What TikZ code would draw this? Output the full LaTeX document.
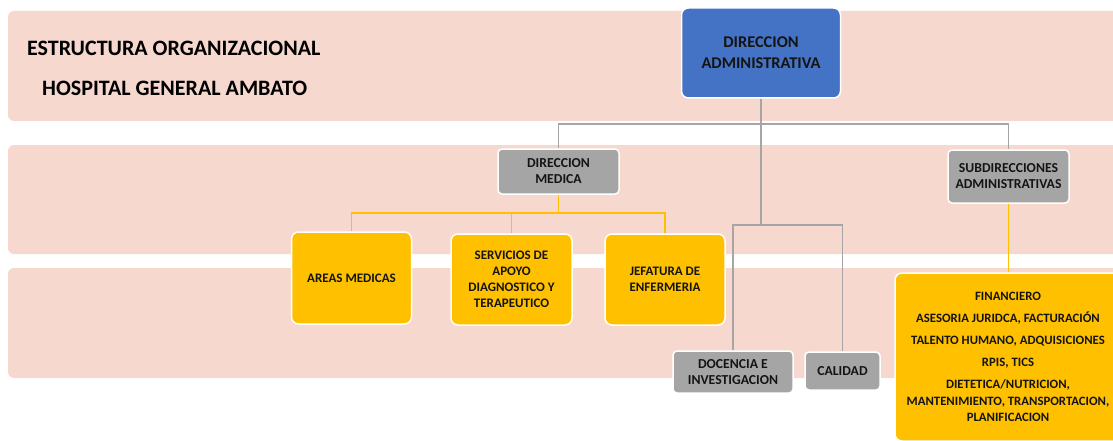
\documentclass[tikz,border=0pt]{standalone}
\usepackage{fontspec}
\setmainfont{Carlito}
\definecolor{bandpink}{RGB}{246,216,206}
\definecolor{dirblue}{RGB}{68,114,196}
\definecolor{boxgray}{RGB}{165,165,165}
\definecolor{boxgold}{RGB}{255,192,0}
\definecolor{textdark}{RGB}{20,20,20}

\tikzset{
  unitbox/.style={draw=white, line width=1.5pt, rounded corners=7pt, inner sep=0pt,
    align=center, text=textdark, font=\bfseries\fontsize{13}{16}\selectfont},
  graybox/.style={unitbox, fill=boxgray, rounded corners=4pt, font=\bfseries\fontsize{13.7}{16}\selectfont},
  goldbox/.style={unitbox, fill=boxgold},
  grayline/.style={draw=boxgray, line width=1.4pt},
  goldline/.style={draw=boxgold, line width=1.4pt}
}

\begin{document}
\begin{tikzpicture}[x=1pt, y=-1pt]
  \useasboundingbox (0,0) rectangle (1113,441);
  \clip (0,0) rectangle (1113,441);

  % background bands
  \fill[bandpink, rounded corners=6pt] (8,11) rectangle (1130,121);
  \fill[bandpink, rounded corners=6pt] (8,145) rectangle (1130,254);
  \fill[bandpink, rounded corners=6pt] (8,268) rectangle (1130,378);

  % title
  \node[anchor=west, font=\bfseries\fontsize{22}{26}\selectfont, inner sep=0pt] (title1) at (27,48) {ESTRUCTURA ORGANIZACIONAL};
  \node[anchor=west, font=\bfseries\fontsize{22}{26}\selectfont, inner sep=0pt] (title2) at (42,88) {HOSPITAL GENERAL AMBATO};

  % top level
  \node[unitbox, fill=dirblue, minimum width=159pt, minimum height=90pt,
        font=\bfseries\fontsize{16.4}{21}\selectfont] (diradm) at (761,53) {DIRECCION\\ADMINISTRATIVA};

  % second level
  \node[graybox, minimum width=121pt, minimum height=45pt] (dirmed) at (558.5,171.5) {DIRECCION\\MEDICA};
  \node[graybox, minimum width=121pt, minimum height=53pt] (subdir) at (1008.5,176.5) {SUBDIRECCIONES\\ADMINISTRATIVAS};

  % medical areas
  \node[goldbox, minimum width=120pt, minimum height=92pt] (areas) at (351.5,278) {AREAS MEDICAS};
  \node[goldbox, minimum width=121pt, minimum height=91pt] (servicios) at (511.5,279.5) {SERVICIOS DE\\APOYO\\DIAGNOSTICO Y\\TERAPEUTICO};
  \node[goldbox, minimum width=120pt, minimum height=91pt] (jefatura) at (665,279.5) {JEFATURA DE\\ENFERMERIA};

  % staff units
  \node[graybox, minimum width=120pt, minimum height=42pt] (docencia) at (733,372) {DOCENCIA E\\INVESTIGACION};
  \node[graybox, minimum width=75pt, minimum height=38pt] (calidad) at (842.5,371) {CALIDAD};

  % administrative units
  \node[goldbox, minimum width=226pt, minimum height=168pt, font=\bfseries\fontsize{12.75}{16.5}\selectfont]
    (admunits) at (1008,357) {FINANCIERO\\[5.5pt]ASESORIA JURIDCA, FACTURACIÓN\\[5.5pt]TALENTO HUMANO, ADQUISICIONES\\[5.5pt]RPIS, TICS\\[5.5pt]DIETETICA/NUTRICION,\\MANTENIMIENTO, TRANSPORTACION,\\PLANIFICACION};

  % junctions
  \coordinate (busA) at (761,124);
  \coordinate (busB) at (761,225);
  \coordinate (busC) at (558.5,213);

  % gray connectors
  \draw[grayline] (diradm.south) -- (busA) -- (busB);
  \draw[grayline] (dirmed.north) |- (busA) -| (subdir.north);
  \draw[grayline] (docencia.north) |- (busB) -| (calidad.north);

  % gold connectors
  \draw[goldline] (dirmed.south) -- (busC);
  \draw[goldline] (areas.north) |- (busC) -| (jefatura.north);
  \draw[goldline] (servicios.north) -- (servicios.north |- busC);
  \draw[goldline] (subdir.south) -- (subdir.south |- admunits.north);

\end{tikzpicture}
\end{document}
